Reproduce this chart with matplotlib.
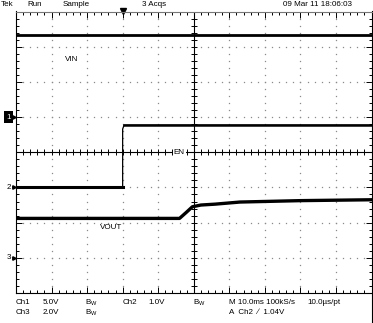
import matplotlib.pyplot as plt
import numpy as np

plt.rcParams['font.family'] = ['Liberation Sans', 'DejaVu Sans']

# scope settings
t_div = 10.0                      # ms/div
ch1_vdiv, ch2_vdiv, ch3_vdiv = 5.0, 1.0, 2.0
ch1_pos, ch2_pos, ch3_pos = 1.0, -1.0, -3.0   # ground markers (div)

# traces (ms, V), trigger at t = 0
vin_t = [-30, 70]
vin_v = [11.7, 11.7]
en_t = [-30, 0, 0, 0.4, 70]
en_v = [0.0, 0.0, 1.66, 1.77, 1.77]
vout_t = [-30, 16, 18, 19.6, 22, 26, 33, 50, 70]
vout_v = [2.24, 2.24, 2.6, 2.9, 3.0, 3.05, 3.17, 3.25, 3.3]

t0, t1 = -30, 70


def to_div(v, vdiv, pos):
    return np.asarray(v) / vdiv + pos


fig = plt.figure(figsize=(3.73, 3.23), dpi=100)
ax = fig.add_axes([16 / 373, 30 / 323, 355.5 / 373, 281.5 / 323])
ax.set_xlim(t0, t1)
ax.set_ylim(-4, 4)

# dotted graticule
xs_minor = np.arange(t0, t1 + 0.01, t_div / 5)
ys_minor = np.arange(-4, 4.01, 0.2)
for gx in np.arange(t0 + t_div, t1, t_div):
    if abs(gx - 20) < 1e-6:
        continue
    ax.plot(np.full_like(ys_minor, gx), ys_minor, ls='', marker='s', ms=0.9,
            mew=0, color='#8a8a8a')
for gy in range(-3, 4):
    if gy == 0:
        continue
    ax.plot(xs_minor, np.full_like(xs_minor, gy), ls='', marker='s', ms=0.9,
            mew=0, color='#8a8a8a')

# centre cross with ticks
ax.axhline(0, color='k', lw=0.8)
ax.axvline(20, color='k', lw=0.8)
ax.plot(xs_minor, np.zeros_like(xs_minor), ls='', marker='|', ms=4.5,
        mew=0.7, color='k')
ax.plot(np.full_like(ys_minor, 20), ys_minor, ls='', marker='_', ms=4.5,
        mew=0.7, color='k')

# edge ticks
ax.set_xticks(np.arange(t0, t1 + 0.01, t_div))
ax.set_xticks(xs_minor, minor=True)
ax.set_yticks(np.arange(-4, 4.01, 1))
ax.set_yticks(ys_minor, minor=True)
ax.tick_params(which='both', direction='in', top=True, right=True,
               labelbottom=False, labelleft=False, color='k', width=0.7)
ax.tick_params(which='major', length=4.5)
ax.tick_params(which='minor', length=2.5)
for s in ax.spines.values():
    s.set_linewidth(0.8)
ax.spines['top'].set_color('#777777')

# traces
ax.plot(vin_t, to_div(vin_v, ch1_vdiv, ch1_pos), color='k', lw=2.0)
en_y = to_div(en_v, ch2_vdiv, ch2_pos)
ax.plot(en_t, en_y, color='k', lw=0.9)
ax.plot(en_t[:2], en_y[:2], color='k', lw=2.2)      # thick noisy low level
ax.plot(en_t[3:], en_y[3:], color='k', lw=1.8)      # high level
ax.plot(vout_t, to_div(vout_v, ch3_vdiv, ch3_pos), color='k', lw=2.4)

# trace labels
lab = dict(fontsize=5.8, color='k')
ax.text(-16.2, 2.65, 'VIN', va='center', ha='left', **lab)
ax.text(-6.3, -2.15, 'VOUT', va='center', ha='left', **lab)
ax.text(14.4, 0.0, 'EN', va='center', ha='left',
        bbox=dict(boxstyle='square,pad=0.1', fc='white', ec='none'), **lab)

# trigger marker and ground markers
ax.plot([0], [4.02], marker='v', ms=4, color='k', clip_on=False)
for pos, name in [(ch1_pos, '1'), (ch2_pos, '2'), (ch3_pos, '3')]:
    ax.plot([t0 - 0.5], [pos], marker='>', ms=2.5, color='k', clip_on=False)
    if name == '1':
        ax.text(t0 - 1.4, pos, name, ha='right', va='center', fontsize=5.8,
                color='white', clip_on=False,
                bbox=dict(boxstyle='square,pad=0.3', fc='k', ec='none'))
    else:
        ax.text(t0 - 1.4, pos, name, ha='right', va='center', fontsize=5.8,
                color='k', clip_on=False)

# header and status lines (figure pixels)
def ftext(x, y, s, **kw):
    fig.text(x / 373, 1 - y / 323, s, fontsize=5.8, va='center', ha='left', **kw)

ftext(1, 5, 'Tek')
ftext(27, 5, 'Run')
ftext(63, 5, 'Sample')
ftext(142, 5, '3 Acqs')
ftext(283, 5, '09 Mar 11 18:06:03')

ftext(16, 303, 'Ch1')
ftext(43, 303, '5.0V')
ftext(85, 303, 'B$_\\mathregular{W}$')
ftext(123, 303, 'Ch2')
ftext(148, 303, '1.0V')
ftext(193, 303, 'B$_\\mathregular{W}$')
ftext(229, 303, 'M 10.0ms 100kS/s')
ftext(307, 303, '10.0\u00b5s/pt')
ftext(16, 313, 'Ch3')
ftext(43, 313, '2.0V')
ftext(85, 313, 'B$_\\mathregular{W}$')
ftext(229, 313, 'A  Ch2  \u2215  1.04V')

fig.add_artist(plt.Line2D([371.5 / 373, 371.5 / 373], [0, 30 / 323],
                          color='k', lw=0.8))

fig.savefig('out.png', dpi=100)
